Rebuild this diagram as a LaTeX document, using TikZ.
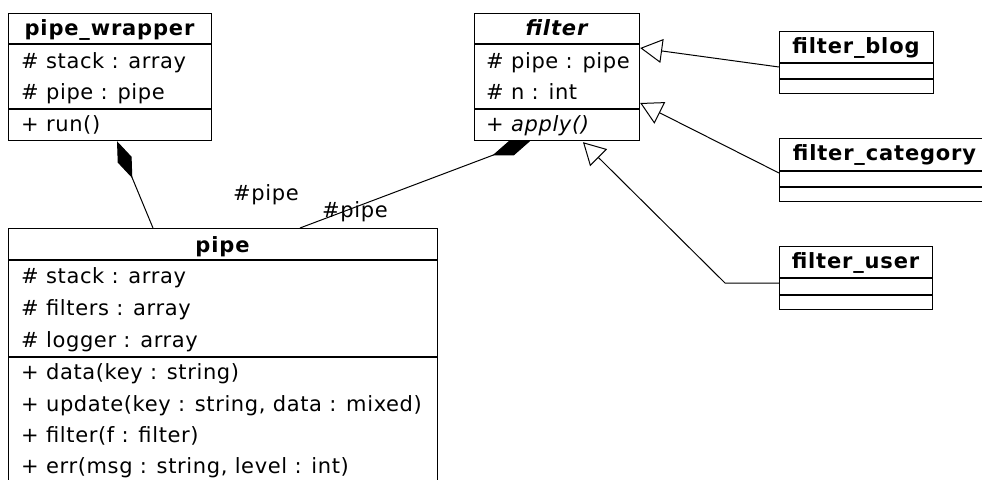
\documentclass[tikz,border=0pt]{standalone}
\usepackage{fontspec}
\setmainfont[LetterSpace=3]{DejaVu Sans}
\usetikzlibrary{arrows.meta,calc}

\begin{document}
\begin{tikzpicture}[x=1pt,y=-1pt,
  classbox/.style={draw, fill=white, line width=1.2pt, inner sep=0pt, anchor=north west},
  member/.style={anchor=base west, inner sep=0pt, font=\fontsize{21}{25}\selectfont},
  ctitle/.style={anchor=base, inner sep=0pt, font=\fontsize{21}{25}\selectfont\bfseries\addfontfeatures{LetterSpace=4}},
  sep/.style={line width=1.2pt},
  link/.style={line width=1pt},
  inherit/.style={link, -{Triangle[open, length=22pt, width=24pt, fill=white]}},
  compose/.style={link, -{Diamond[length=40pt, width=15pt]}},
  rolelbl/.style={anchor=base west, inner sep=0pt, font=\fontsize{21}{25}\selectfont}
]
\useasboundingbox (0,0) rectangle (982,479);
\fill[white] (0,0) rectangle (982,479);
\clip (0,0) rectangle (982,479);

% ---- pipe_wrapper
\node[classbox, minimum width=203pt, minimum height=127pt] (pw) at (8,13) {};
\draw[sep] (8,44) -- (211,44);
\draw[sep] (8,109) -- (211,109);
\node[ctitle] (pw-t) at (109.5,35) {pipe\_wrapper};
\node[member] (pw-a1) at (21,68) {\# stack : array};
\node[member] (pw-a2) at (21,99) {\# pipe : pipe};
\node[member] (pw-m1) at (21,131) {+ run()};

% ---- filter (abstract)
\node[classbox, minimum width=165pt, minimum height=127pt] (filter) at (474,13) {};
\draw[sep] (474,44) -- (639,44);
\draw[sep] (474,109) -- (639,109);
\node[ctitle, font=\fontsize{21}{25}\selectfont\bfseries\itshape\addfontfeatures{LetterSpace=4}] (filter-t) at (556.5,35) {filter};
\node[member] (filter-a1) at (486,68) {\# pipe : pipe};
\node[member] (filter-a2) at (486,99) {\# n : int};
\node[member] (filter-m1) at (486,131) {+ \textit{apply()}};

% ---- filter_blog
\node[classbox, minimum width=154pt, minimum height=62pt] (fblog) at (779,31) {};
\draw[sep] (779,63) -- (933,63);
\draw[sep] (779,79) -- (933,79);
\node[ctitle] (fblog-t) at (856,53) {filter\_blog};

% ---- filter_category
\node[classbox, minimum width=211pt, minimum height=63pt] (fcat) at (779,138) {};
\draw[sep] (779,171) -- (990,171);
\draw[sep] (779,187) -- (990,187);
\node[ctitle] (fcat-t) at (884.5,160) {filter\_category};

% ---- filter_user
\node[classbox, minimum width=153pt, minimum height=63pt] (fuser) at (779,246) {};
\draw[sep] (779,278) -- (932,278);
\draw[sep] (779,295) -- (932,295);
\node[ctitle] (fuser-t) at (855.5,268) {filter\_user};

% ---- pipe
\node[classbox, minimum width=429pt, minimum height=290pt] (pipe) at (8,228) {};
\draw[sep] (8,260) -- (437,260);
\draw[sep] (8,357) -- (437,357);
\node[ctitle] (pipe-t) at (222.5,252) {pipe};
\node[member] (pipe-a1) at (21,283) {\# stack : array};
\node[member] (pipe-a2) at (21,315) {\# filters : array};
\node[member] (pipe-a3) at (21,347) {\# logger : array};
\node[member] (pipe-m1) at (21,379) {+ data(key : string)};
\node[member] (pipe-m2) at (21,411) {+ update(key : string, data : mixed)};
\node[member] (pipe-m3) at (21,442) {+ filter(f : filter)};
\node[member] (pipe-m4) at (21,473) {+ err(msg : string, level : int)};

% ---- compositions
\coordinate (pw-c) at ($(pw.south west)+(109,0)$);
\coordinate (p-c1) at ($(pipe.north west)+(145,0)$);
\draw[compose] (p-c1) -- (pw-c);

\coordinate (f-c) at ($(filter.south west)+(56,0)$);
\coordinate (p-c2) at ($(pipe.north west)+(292,0)$);
\draw[compose] (p-c2) -- (f-c);

\node[rolelbl] (role1) at (233,200) {\#pipe};
\node[rolelbl] (role2) at (322,217) {\#pipe};

% ---- generalizations
\coordinate (fb-c) at ($(fblog.north west)+(0,36)$);
\coordinate (f-g1) at ($(filter.north east)+(0,35)$);
\draw[inherit] (fb-c) -- (f-g1);

\coordinate (fc-c) at ($(fcat.north west)+(0,35)$);
\coordinate (f-g2) at ($(filter.north east)+(0,90)$);
\draw[inherit] (fc-c) -- (f-g2);

\coordinate (fu-c) at ($(fuser.north west)+(0,37)$);
\coordinate (fu-b) at ($(fu-c)+(-54,0)$);
\coordinate (f-g3) at ($(filter.south west)+(109,1)$);
\draw[inherit] (fu-c) -- (fu-b) -- (f-g3);
\end{tikzpicture}
\end{document}
